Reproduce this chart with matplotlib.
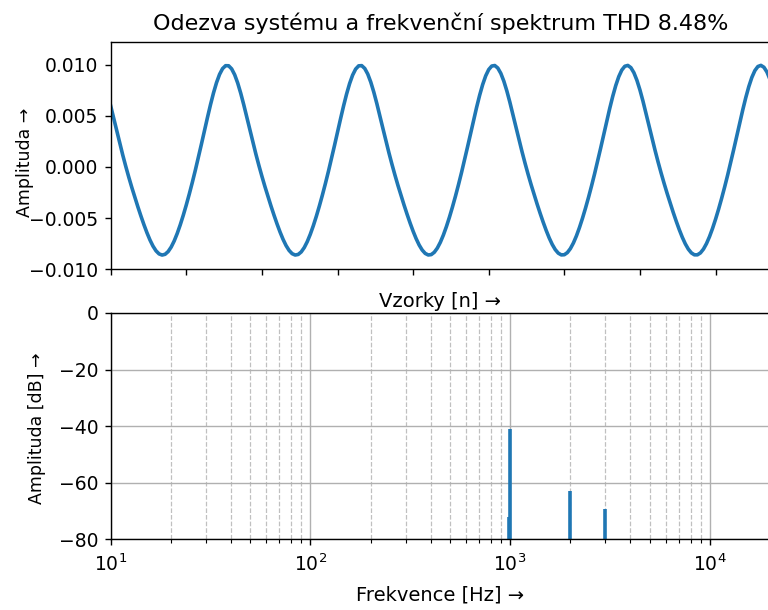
import numpy as np
import matplotlib.pyplot as plt
from matplotlib.ticker import MultipleLocator

# Vzorkovací frekvence a délka zobrazeného úseku
fs = 44100
n_samples = 219

# Harmonické složky odezvy (frekvence, úroveň v dB, fáze v rad)
harm_freq = [1000, 2000, 3000]
harm_db = [-41.0, -62.9, -69.4]
harm_phase = [0.764, 1.928, 2.292]

# Čáry ve spektru (včetně prosaku vedle základní harmonické)
spec_freq = [988, 1000, 2000, 3000]
spec_db = [-72.0, -41.0, -62.9, -69.4]

thd = 8.48

plt.rcParams['font.size'] = 14
plt.rcParams['xtick.labelsize'] = 13.5
plt.rcParams['ytick.labelsize'] = 13.5
plt.rcParams['axes.titlesize'] = 16
plt.rcParams['axes.linewidth'] = 1.0
plt.rcParams['xtick.major.size'] = 4.5
plt.rcParams['ytick.major.size'] = 4.5
plt.rcParams['xtick.minor.size'] = 2.6
plt.rcParams['xtick.major.width'] = 1.0
plt.rcParams['ytick.major.width'] = 1.0
plt.rcParams['xtick.minor.width'] = 0.8
plt.rcParams['xtick.major.pad'] = 5.5
plt.rcParams['ytick.major.pad'] = 4.5

# Časový průběh složený z harmonických
n = np.arange(n_samples)
amps = 10 ** (np.array(harm_db) / 20)
signal = np.zeros(n_samples)
for f, a, ph in zip(harm_freq, amps, harm_phase):
    signal += a * np.cos(2 * np.pi * f * n / fs + ph)

fig = plt.figure(figsize=(7.68, 6.10), dpi=100)
ax1 = fig.add_axes([0.1441, 0.5585, 0.8585, 0.3726])
ax2 = fig.add_axes([0.1441, 0.1159, 0.8585, 0.3710])

# Odezva systému
ax1.plot(n, signal, color='#1f77b4', linewidth=2.6)
ax1.set_xlim(0, n_samples - 1)
ax1.set_ylim(-0.010, 0.0122)
ax1.set_yticks([-0.010, -0.005, 0.0, 0.005, 0.010])
ax1.xaxis.set_major_locator(MultipleLocator(25))
ax1.tick_params(labelbottom=False)
ax1.set_xlabel('Vzorky [n] →', labelpad=12)
ax1.set_ylabel('Amplituda →', fontsize=12.5)
ax1.yaxis.set_label_coords(-0.117, 0.47)
ax1.set_title(f'Odezva systému a frekvenční spektrum THD {thd}%', pad=9)

# Frekvenční spektrum
ax2.set_xscale('log')
ax2.vlines(spec_freq, -80, spec_db, color='#1f77b4', linewidth=2.6)
ax2.set_xlim(10, 20000)
ax2.set_ylim(-80, 0)
ax2.set_yticks([0, -20, -40, -60, -80])
ax2.grid(True, which='major', color='#b0b0b0', linewidth=1.0)
ax2.grid(True, which='minor', axis='x', color='#c0c0c0', linestyle='--', linewidth=0.9)
ax2.set_xlabel('Frekvence [Hz] →', labelpad=8)
ax2.set_ylabel('Amplituda [dB] →', fontsize=12.5)
ax2.yaxis.set_label_coords(-0.098, 0.49)

fig.savefig('out.png', dpi=100)
